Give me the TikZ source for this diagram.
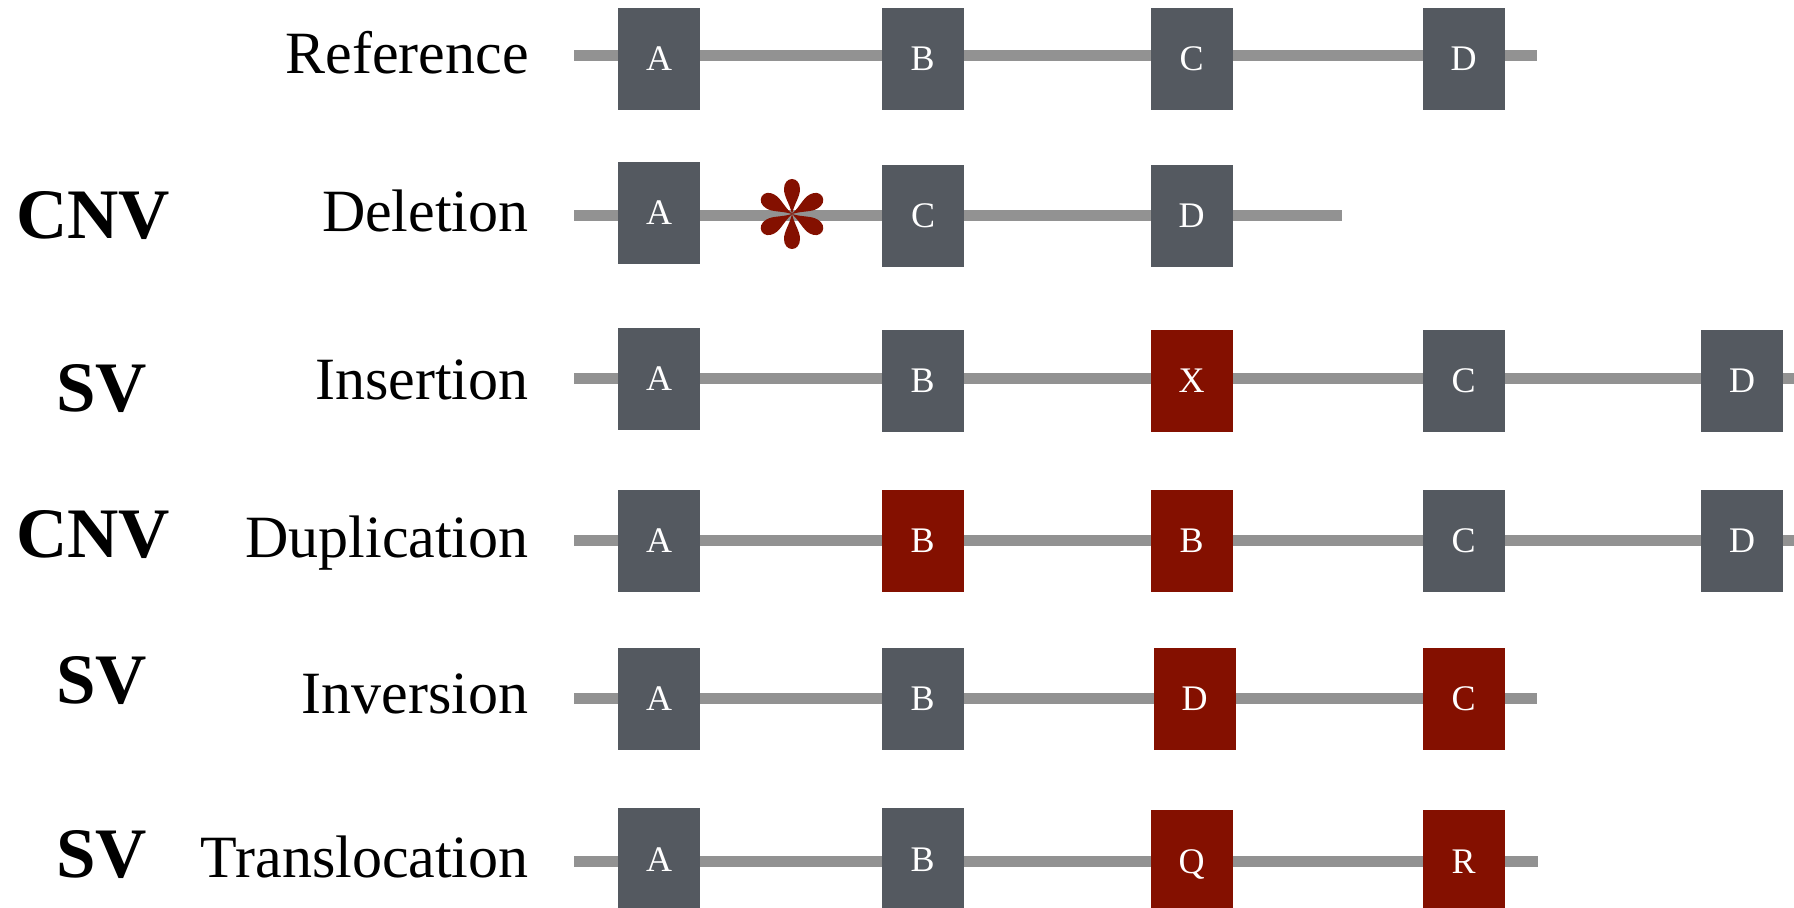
\documentclass[tikz,border=0pt]{standalone}
\usepackage{fontspec}
\setmainfont{Liberation Serif}
\definecolor{boxgray}{RGB}{84,89,96}
\definecolor{varred}{RGB}{132,16,0}
\definecolor{linegray}{RGB}{146,146,146}
\tikzset{
  gbox/.style={fill=boxgray, minimum width=41pt, minimum height=51pt, inner sep=0pt,
    text=white, font=\fontsize{18}{18}\selectfont, text height=12pt, text depth=0pt},
  rbox/.style={gbox, fill=varred},
  track/.style={draw=linegray, line width=5.5pt},
  rowlab/.style={anchor=base east, inner sep=0pt, font=\fontsize{30}{30}\selectfont},
  typelab/.style={anchor=base west, inner sep=0pt, font=\fontsize{35.5}{35.5}\selectfont\bfseries}
}
\begin{document}
\begin{tikzpicture}[x=0.5pt,y=-0.5pt]
\useasboundingbox (0,0) rectangle (1794,908);

% Row labels
\node[rowlab] (lref) at (529,74) {Reference};
\node[rowlab] (ldel) at (529,232) {Deletion};
\node[rowlab] (lins) at (529,400) {Insertion};
\node[rowlab] (ldup) at (529,558) {Duplication};
\node[rowlab] (linv) at (529,713) {Inversion};
\node[rowlab] (ltra) at (529,877) {Translocation};

% Type labels
\node[typelab] (tdel) at (16,239) {CNV};
\node[typelab] (tins) at (56,412) {SV};
\node[typelab] (tdup) at (16,558) {CNV};
\node[typelab] (tinv) at (56,704) {SV};
\node[typelab] (ttra) at (56,877) {SV};

% Tracks
\coordinate (s1) at (574,56);    \coordinate (e1) at (1537,56);
\coordinate (s2) at (574,216);   \coordinate (e2) at (1342,216);
\coordinate (s3) at (574,378.5); \coordinate (e3) at (1794,378.5);
\coordinate (s4) at (574,541);   \coordinate (e4) at (1794,541);
\coordinate (s5) at (574,698.5); \coordinate (e5) at (1537,698.5);
\coordinate (s6) at (574,861.5); \coordinate (e6) at (1538,861.5);
\foreach \i in {1,...,6} { \draw[track] (s\i) -- (e\i); }

% Reference
\node[gbox] (r1a) at (659,59) {A};
\node[gbox] (r1b) at (922.5,59) {B};
\node[gbox] (r1c) at (1191.5,59) {C};
\node[gbox] (r1d) at (1463.5,59) {D};

% Deletion
\node[gbox] (r2a) at (659,213) {A};
\node[gbox] (r2c) at (923,216) {C};
\node[gbox] (r2d) at (1191.5,216) {D};
\begin{scope}[shift={(792,214)}]
  \foreach \ang in {0,60,...,300} {
    \fill[varred, rotate=\ang] (0,0) .. controls (2.5,11) and (8,17) .. (8,25)
      .. controls (8,31) and (4.5,35) .. (0,35)
      .. controls (-4.5,35) and (-8,31) .. (-8,25)
      .. controls (-8,17) and (-2.5,11) .. (0,0) -- cycle;
  }
\end{scope}

% Insertion
\node[gbox] (r3a) at (659,379) {A};
\node[gbox] (r3b) at (922.5,381) {B};
\node[rbox] (r3x) at (1191.5,381) {X};
\node[gbox] (r3c) at (1463.5,381) {C};
\node[gbox] (r3d) at (1742,381) {D};

% Duplication
\node[gbox] (r4a) at (659,541) {A};
\node[rbox] (r4b) at (922.5,541) {B};
\node[rbox] (r4bb) at (1191.5,541) {B};
\node[gbox] (r4c) at (1463.5,541) {C};
\node[gbox] (r4d) at (1742,541) {D};

% Inversion
\node[gbox] (r5a) at (659,699) {A};
\node[gbox] (r5b) at (922.5,699) {B};
\node[rbox] (r5d) at (1194.5,699) {D};
\node[rbox] (r5c) at (1463.5,699) {C};

% Translocation
\node[gbox] (r6a) at (659,859) {A};
\node[gbox] (r6b) at (922.5,859) {B};
\node[rbox] (r6q) at (1191.5,861) {Q};
\node[rbox] (r6r) at (1463.5,861) {R};
\end{tikzpicture}
\end{document}
